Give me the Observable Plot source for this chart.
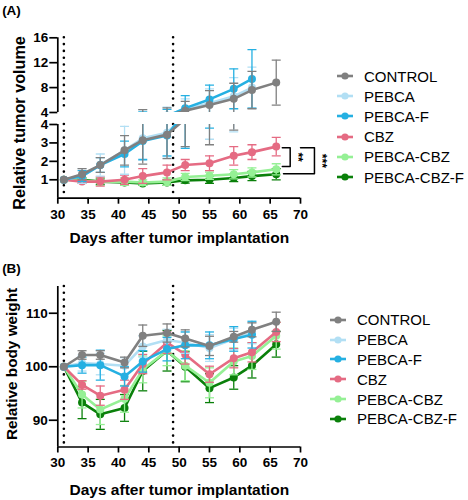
<!DOCTYPE html>
<html><head><meta charset="utf-8">
<script src="https://cdn.jsdelivr.net/npm/d3@7"></script>
<script src="https://cdn.jsdelivr.net/npm/@observablehq/plot@0.6"></script>
<style>
body{margin:0;background:#fff;}
#root{position:relative;width:468px;height:500px;font-family:"Liberation Sans",Arial,Helvetica,sans-serif;color:#000;overflow:hidden}
#root svg.pl{position:absolute;left:0}
.lbl{position:absolute;font-weight:bold;white-space:nowrap;line-height:1}
.legend{position:absolute;font-size:15px;line-height:1}
.legrow{display:flex;align-items:center}
.legrow svg{margin-right:11px}
</style></head><body><div id="root"></div>
<script>
// ---------- data ----------
const days = [31, 34, 37, 41, 44, 48, 51, 55, 59, 62, 66];
const seriesNames = ["CONTROL", "PEBCA", "PEBCA-F", "CBZ", "PEBCA-CBZ", "PEBCA-CBZ-F"];
const seriesColors = ["#808080", "#b2dff4", "#25b0e2", "#e56b83", "#95f095", "#0a800a"];
const drawOrder = ["PEBCA-CBZ-F", "PEBCA-CBZ", "CBZ", "PEBCA", "PEBCA-F", "CONTROL"];

// (A) relative tumor volume (mean, error)
const tvControl     = [1.0, 1.3, 1.8, 2.6, 3.15, 3.45, 4.3, 5.2, 6.2, 7.6, 8.8];
const tvControlErr  = [0, 0.3, 0.4, 0.8, 1.3, 1.3, 1.5, 2.3, 2.5, 3.0, 3.6];
const tvPebca       = [1.0, 1.2, 1.8, 2.6, 3.25, 3.55, 4.5, 5.5, 6.6, 8.0];
const tvPebcaErr    = [0, 0.4, 0.6, 1.3, 1.2, 1.3, 1.7, 2.3, 3.0, 3.3];
const tvPebcaF      = [1.0, 1.2, 1.8, 2.4, 3.1, 3.4, 4.7, 6.1, 7.8, 9.4];
const tvPebcaFErr   = [0, 0.3, 0.4, 0.7, 1.0, 1.1, 2.0, 2.3, 3.2, 4.7];
const tvCbz         = [1.0, 0.9, 0.9, 1.0, 1.2, 1.4, 1.8, 1.9, 2.3, 2.5, 2.8];
const tvCbzErr      = [0, 0.1, 0.25, 0.25, 0.4, 0.4, 0.3, 0.4, 0.5, 0.4, 0.5];
const tvPebcaCbz    = [1.0, 0.95, 0.9, 0.9, 0.85, 0.9, 1.15, 1.22, 1.3, 1.4, 1.57];
const tvPebcaCbzErr = [0, 0.15, 0.2, 0.2, 0.15, 0.2, 0.2, 0.2, 0.25, 0.25, 0.3];
const tvPebcaCbzF   = [1.0, 1.0, 0.9, 0.85, 0.8, 0.85, 0.97, 1.0, 1.1, 1.2, 1.3];
const tvPebcaCbzFErr= [0, 0.1, 0.15, 0.15, 0.1, 0.15, 0.15, 0.2, 0.2, 0.25, 0.3];

// (B) relative body weight (mean, error)
const bwControl     = [100, 102.2, 102.2, 100.8, 105.8, 106.3, 105.3, 103.9, 105.6, 106.9, 108.4];
const bwControlErr  = [0, 0.8, 0.8, 1.0, 2.0, 1.7, 1.6, 1.8, 1.0, 1.3, 1.8];
const bwPebca       = [100, 100.7, 100.5, 100.2, 103.8, 105.0, 104.5, 103.5, 105.2, 106.3];
const bwPebcaErr    = [0, 1.5, 2.0, 1.5, 2.0, 2.0, 2.0, 2.5, 2.0, 2.0];
const bwPebcaF      = [100, 100.3, 100.3, 98.2, 101.0, 103.3, 104.0, 104.0, 105.2, 106.0];
const bwPebcaFErr   = [0, 1.5, 2.8, 1.8, 2.0, 2.2, 2.5, 2.5, 2.3, 2.5];
const bwCbz         = [100, 96.6, 94.6, 95.7, 100.5, 104.5, 102.3, 98.6, 101.6, 102.7, 106.5];
const bwCbzErr      = [0, 0.8, 1.8, 1.8, 1.8, 2.0, 1.8, 1.5, 1.8, 1.8, 1.8];
const bwPebcaCbz    = [100, 94.8, 92.0, 94.0, 99.5, 103.0, 100.2, 97.0, 101.0, 102.0, 105.8];
const bwPebcaCbzErr = [0, 2.5, 2.8, 2.5, 2.5, 2.8, 2.8, 2.8, 2.5, 2.5, 2.5];
const bwPebcaCbzF   = [100, 93.3, 91.1, 92.3, 99.2, 103.0, 100.0, 96.0, 98.0, 100.2, 104.2];
const bwPebcaCbzFErr= [0, 3.0, 2.8, 2.5, 3.7, 3.8, 2.8, 2.7, 2.2, 2.3, 2.4];

// axis ticks / labels
const xTicks = [30, 35, 40, 45, 50, 55, 60, 65, 70];
const xDomain = [30, 70];
const tvUpperTicks = [4, 8, 12, 16];
const tvUpperDomain = [4, 16];
const tvLowerTicks = [1, 2, 3, 4];
const tvLowerDomain = [0, 4];
const bwTicks = [90, 100, 110];
const bwDomain = [85, 115];
const treatmentDays = [31, 49];
const xTitle = "Days after tumor implantation";
const tvTitle = "Relative tumor volume";
const bwTitle = "Relative body weight";

// significance annotation (day 66 comparisons)
const sigInner = [{day: 67.0, v: 2.74}, {day: 68.3, v: 2.74}, {day: 68.3, v: 1.72}, {day: 67.0, v: 1.72}];
const sigOuter = [{day: 70.0, v: 2.74}, {day: 72.3, v: 2.74}, {day: 72.3, v: 1.33}, {day: 67.2, v: 1.33}];
const sigLabels = [{day: 69.6, v: 2.23, text: "**"}, {day: 73.5, v: 2.03, text: "***"}];

// ---------- build ----------
function table(means, errs) {
  return seriesNames.flatMap((s, i) => means[i].map((v, j) => ({series: s, day: days[j], value: v, err: errs[i][j]})));
}
const tvRows = table(
  [tvControl, tvPebca, tvPebcaF, tvCbz, tvPebcaCbz, tvPebcaCbzF],
  [tvControlErr, tvPebcaErr, tvPebcaFErr, tvCbzErr, tvPebcaCbzErr, tvPebcaCbzFErr]);
const bwRows = table(
  [bwControl, bwPebca, bwPebcaF, bwCbz, bwPebcaCbz, bwPebcaCbzF],
  [bwControlErr, bwPebcaErr, bwPebcaFErr, bwCbzErr, bwPebcaCbzErr, bwPebcaCbzFErr]);

const capSymbol = {draw(ctx, size) { const w = Math.sqrt(size / Math.PI); ctx.moveTo(-w, 0); ctx.lineTo(w, 0); }};

function seriesMarks(rows, clip) {
  const out = [];
  for (const s of drawOrder) {
    const r = rows.filter(d => d.series === s);
    const re = r.filter(d => d.err > 0);
    out.push(Plot.ruleX(re, {x: "day", y1: d => d.value - d.err, y2: d => d.value + d.err, stroke: "series", strokeWidth: 1.3, clip}));
    out.push(Plot.dot(re, {x: "day", y: d => d.value + d.err, symbol: capSymbol, r: 4.5, fill: "none", stroke: "series", strokeWidth: 1.3, clip}));
    out.push(Plot.dot(re, {x: "day", y: d => d.value - d.err, symbol: capSymbol, r: 4.5, fill: "none", stroke: "series", strokeWidth: 1.3, clip}));
    out.push(Plot.line(r, {x: "day", y: "value", stroke: "series", strokeWidth: 2.6, clip}));
    out.push(Plot.dot(r, {x: "day", y: "value", fill: "series", r: 4, clip}));
  }
  return out;
}
const color = {domain: seriesNames, range: seriesColors};
const baseStyle = {background: "transparent", fontSize: "13.5px", fontWeight: "bold", fontFamily: "'Liberation Sans', Arial, sans-serif", color: "black", overflow: "visible"};
const dotted = {stroke: "black", strokeWidth: 2.6, strokeDasharray: "0 6.8", strokeLinecap: "round"};
const intFmt = d3.format("d");

const root = document.getElementById("root");
function place(svg, top) { svg.classList.add("pl"); svg.style.top = top + "px"; root.appendChild(svg); }

// (A) upper segment
place(Plot.plot({
  width: 330, height: 250, marginLeft: 57.3, marginRight: 30, marginTop: 37.3, marginBottom: 138,
  style: baseStyle, color,
  x: {domain: xDomain, axis: null},
  y: {domain: tvUpperDomain, axis: null},
  marks: [
    Plot.ruleX(treatmentDays, dotted),
    ...seriesMarks(tvRows, true),
    Plot.axisY({ticks: tvUpperTicks, tickFormat: intFmt, tickSize: 8, tickPadding: 1.5, label: null, strokeWidth: 1.7}),
    Plot.ruleX([xDomain[0]], {stroke: "black", strokeWidth: 1.7})
  ]
}), 0);

// (A) lower segment
place(Plot.plot({
  width: 330, height: 250, marginLeft: 57.3, marginRight: 30, marginTop: 124, marginBottom: 52.3,
  style: baseStyle, color,
  x: {domain: xDomain, axis: null},
  y: {domain: tvLowerDomain, axis: null},
  marks: [
    Plot.ruleX(treatmentDays, dotted),
    ...seriesMarks(tvRows, true),
    Plot.line(sigInner, {x: "day", y: "v", stroke: "black", strokeWidth: 1.5}),
    Plot.line(sigOuter, {x: "day", y: "v", stroke: "black", strokeWidth: 1.5}),
    Plot.text(sigLabels, {x: "day", y: "v", text: "text", rotate: 90, fontSize: 12, fontWeight: "bold"}),
    Plot.axisY({ticks: tvLowerTicks, tickFormat: intFmt, tickSize: 8, tickPadding: 1.5, label: null, strokeWidth: 1.7}),
    Plot.axisX({ticks: xTicks, tickFormat: intFmt, tickSize: 6, tickPadding: 5, label: null, strokeWidth: 1.7}),
    Plot.ruleX([xDomain[0]], {stroke: "black", strokeWidth: 1.7}),
    Plot.ruleY([tvLowerDomain[0]], {stroke: "black", strokeWidth: 1.7})
  ]
}), 0);

// (B)
place(Plot.plot({
  width: 330, height: 250, marginLeft: 57.3, marginRight: 30, marginTop: 36, marginBottom: 53.5,
  style: baseStyle, color,
  x: {domain: xDomain, axis: null},
  y: {domain: bwDomain, axis: null},
  marks: [
    Plot.ruleX(treatmentDays, dotted),
    ...seriesMarks(bwRows, false),
    Plot.axisY({ticks: bwTicks, tickFormat: intFmt, tickSize: 8.5, tickPadding: 1.5, label: null, strokeWidth: 1.7}),
    Plot.axisX({ticks: xTicks, tickFormat: intFmt, tickSize: 6, tickPadding: 4, label: null, strokeWidth: 1.7}),
    Plot.ruleX([xDomain[0]], {stroke: "black", strokeWidth: 1.7}),
    Plot.ruleY([bwDomain[0]], {stroke: "black", strokeWidth: 1.7})
  ]
}), 250);

// text labels
function label(text, x, y, size, rotate) {
  const d = document.createElement("div");
  d.className = "lbl";
  d.textContent = text;
  d.style.left = x + "px"; d.style.top = y + "px"; d.style.fontSize = size + "px";
  d.style.transform = "translate(-50%,-50%)" + (rotate ? " rotate(-90deg)" : "");
  root.appendChild(d);
}
label("(A)", 11.5, 10.5, 13.5);
label("(B)", 11.5, 268.5, 13.5);
label(tvTitle, 18.5, 122.5, 16.2, true);
label(bwTitle, 11.5, 364, 15.3, true);
label(xTitle, 179.3, 238, 15.5);
label(xTitle, 179.3, 490, 15.5);

// legends
function legend(left, top, rowH) {
  const box = document.createElement("div");
  box.className = "legend";
  box.style.left = left + "px"; box.style.top = top + "px";
  seriesNames.forEach((s, i) => {
    const row = document.createElement("div");
    row.className = "legrow"; row.style.height = rowH + "px";
    row.innerHTML = `<svg width="16" height="10"><line x1="0" x2="16" y1="5" y2="5" stroke="${seriesColors[i]}" stroke-width="2.6"/><circle cx="8" cy="5" r="3.6" fill="${seriesColors[i]}"/></svg><span>${s}</span>`;
    box.appendChild(row);
  });
  root.appendChild(box);
}
legend(337, 66, 20.2);
legend(330, 310, 19.8);
</script></body></html>
